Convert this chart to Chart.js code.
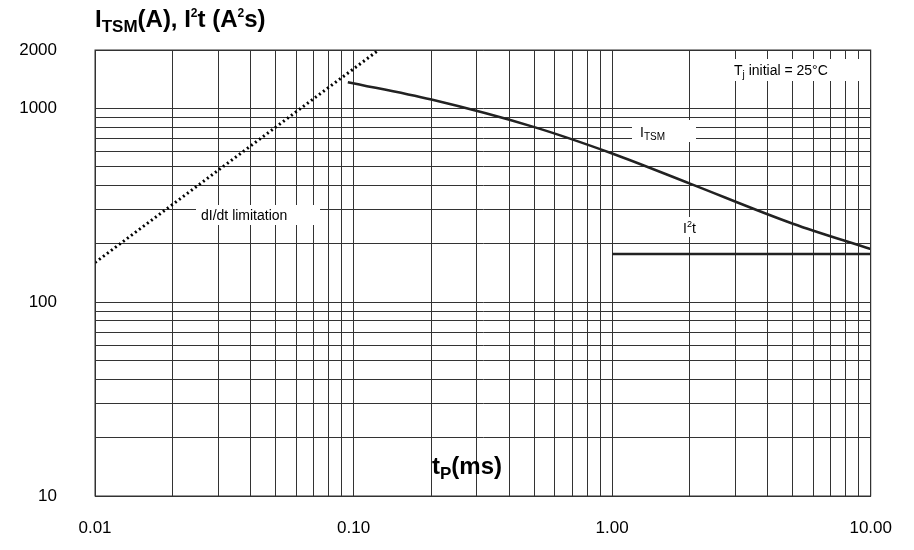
<!DOCTYPE html><html><head><script src="https://cdn.jsdelivr.net/npm/chart.js@4"></script>
<style>body{margin:0;background:#fff}#w{width:914px;height:550px}</style></head><body><div id="w"><canvas id="c"></canvas></div>
<script>
const dlimT=[0.01,0.125];
const dlimI=[160,2000];
const itsmT=[0.095,0.2,0.5,1,2,5,10];
const itsmI=[1365,1110,800,585,409,254,188];
const i2tT=[1,10];
const i2tI=[177,177];
const xTicks=[0.01,0.1,1,10];
const xLabels={0.01:'0.01',0.1:'0.10',1:'1.00',10:'10.00'};
const yTicks=[10,20,30,40,50,60,70,80,90,100,200,300,400,500,600,700,800,900,1000,2000];
const yLabels={10:'10',100:'100',1000:'1000',2000:'2000'};
const xGrid=[];[0.01,0.1,1].forEach(d=>{for(let k=1;k<10;k++)xGrid.push(+(d*k).toPrecision(3));});xGrid.push(10);
const mk=(t,v)=>t.map((x,i)=>({x,y:v[i]}));
const txt={id:'txt',afterDraw(c){const g=c.ctx;g.save();g.fillStyle='#000';
 const sub=(parts,x,y)=>{parts.forEach(([s,f,dy])=>{g.font=f;g.fillText(s,x,y+dy);x+=g.measureText(s).width;});};
 g.textBaseline='alphabetic';g.textAlign='left';
 sub([['I','bold 24px Arial',0],['TSM','bold 17px Arial',5],['(A), I','bold 24px Arial',0],['2','bold 12px Arial',-10],['t (A','bold 24px Arial',0],['2','bold 12px Arial',-10],['s)','bold 24px Arial',0]],95,27);
 sub([['t','bold 24px Arial',0],['P','bold 17px Arial',5],['(ms)','bold 24px Arial',0]],432,474);
 const box=(x,y,w,h)=>{g.fillStyle='#fff';g.fillRect(x,y,w,h);g.fillStyle='#000';};
 box(632,120,64,22);sub([['I','14px Arial',0],['TSM','10px Arial',3]],640,137);
 box(675,217,30,20);sub([['I','14px Arial',0],['2','9px Arial',-6],['t','14px Arial',0]],683,233);
 box(196,205,124,20);sub([['dI/dt limitation','14px Arial',0]],201,220);
 box(726,59,140,22);sub([['T','14px Arial',0],['j','10px Arial',3],[' initial = 25°C','14px Arial',0]],734,75);
 g.restore();}};
new Chart(document.getElementById('c'),{type:'line',
data:{datasets:[
{data:mk(dlimT,dlimI),borderColor:'#000',borderWidth:3,borderDash:[2,3],pointRadius:0},
{data:mk(itsmT,itsmI),borderColor:'#222',borderWidth:2.5,pointRadius:0,tension:0.4,cubicInterpolationMode:'monotone'},
{data:mk(i2tT,i2tI),borderColor:'#222',borderWidth:2.5,pointRadius:0}]},
options:{responsive:true,maintainAspectRatio:false,animation:false,clip:true,
layout:{padding:{top:50,right:35,left:0,bottom:0}},
plugins:{legend:{display:false},tooltip:{enabled:false}},
scales:{
x:{type:'logarithmic',min:0.01,max:10,afterBuildTicks:s=>{s.ticks=xGrid.map(v=>({value:v}));},
 afterFit:s=>{s.height=54;},
 ticks:{autoSkip:false,maxRotation:0,color:'#000',font:{size:17,family:'Arial'},padding:22,callback:v=>xLabels[v]||''},
 grid:{color:'#333',lineWidth:1,drawTicks:false},border:{color:'#333'}},
y:{type:'logarithmic',min:10,max:2000,afterBuildTicks:s=>{s.ticks=yTicks.map(v=>({value:v}));},
 afterFit:s=>{s.width=95;},
 ticks:{autoSkip:false,color:'#000',font:{size:17,family:'Arial'},padding:38,callback:v=>yLabels[v]||''},
 grid:{color:'#333',lineWidth:1,drawTicks:false},border:{color:'#333'}}}},
plugins:[txt,{id:'frame',afterDraw(c){const a=c.chartArea,g=c.ctx;g.save();g.strokeStyle='#333';g.strokeRect(a.left,a.top,a.right-a.left,a.bottom-a.top);g.restore();}}]});
</script></body></html>
